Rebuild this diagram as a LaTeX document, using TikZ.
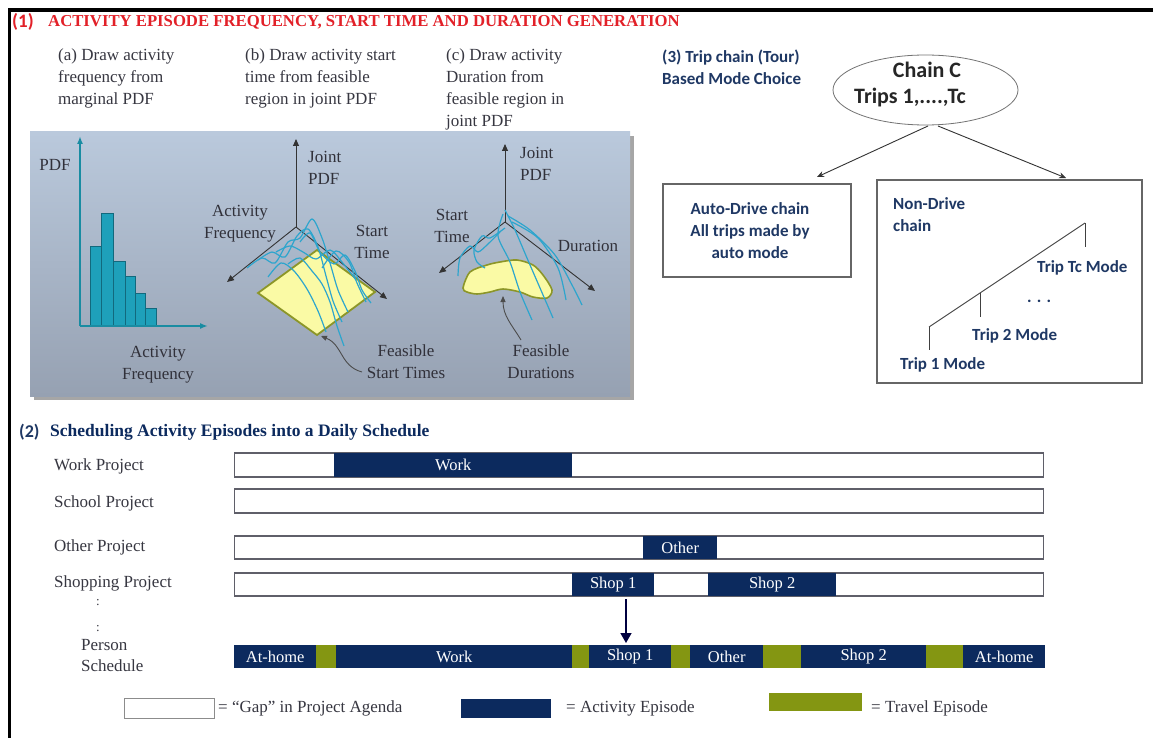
\documentclass[tikz,border=0pt]{standalone}
\usepackage{fontspec}
\setmainfont{Liberation Serif}
\newfontfamily\calfont{Carlito}
\usetikzlibrary{arrows.meta,shapes.geometric}

\definecolor{hdred}{RGB}{226,32,40}
\definecolor{navy}{RGB}{12,42,94}
\definecolor{olive}{RGB}{132,150,18}
\definecolor{tripnavy}{RGB}{31,56,100}
\definecolor{txtgray}{RGB}{55,55,65}
\definecolor{paneltop}{RGB}{186,201,220}
\definecolor{panelbot}{RGB}{150,161,178}
\definecolor{tealfill}{RGB}{30,160,186}
\definecolor{tealedge}{RGB}{18,105,125}
\definecolor{tealaxis}{RGB}{25,140,162}
\definecolor{wave}{RGB}{45,165,205}
\definecolor{planefill}{RGB}{250,250,165}
\definecolor{planeedge}{RGB}{140,150,40}
\definecolor{bargray}{RGB}{95,95,105}

\tikzset{
  hd/.style={inner sep=0, text=hdred},
  captxt/.style={inner sep=0, align=left, text=txtgray, font=\fontsize{17}{22}\selectfont},
  plab/.style={inner sep=0, align=center, text=txtgray!90!black, font=\fontsize{17}{22}\selectfont},
  histbar/.style={fill=tealfill, draw=tealedge, line width=0.8},
  histaxis/.style={draw=tealaxis, line width=1.6, -{Latex[length=8pt,width=6pt]}},
  axis3d/.style={draw=black!80, line width=0.9, -{Triangle[length=7pt,width=6pt]}},
  wavy/.style={draw=wave, line width=1.2},
  pointer/.style={draw=black!70, line width=0.9, -{Triangle[length=6pt,width=5pt]}},
  cb/.style={inner sep=0, align=left, text=tripnavy, font=\calfont\bfseries\fontsize{17}{22}\selectfont},
  treebox/.style={draw=black!60, line width=1.3, fill=white},
  treeline/.style={draw=black!75, line width=0.9},
  chainarrow/.style={draw=black!80, line width=0.9, -{Stealth[length=7pt,width=6pt]}},
  slab/.style={inner sep=0, anchor=west, align=left, text=txtgray, font=\fontsize{17}{21}\selectfont},
  gapbar/.style={draw=bargray, line width=1.4, fill=white, inner sep=0, anchor=west},
  actblk/.style={fill=navy, text=white, inner sep=0, anchor=west, font=\fontsize{16.5}{16.5}\selectfont},
  trvblk/.style={fill=olive, inner sep=0, anchor=west},
}

\begin{document}
\begin{tikzpicture}[x=1pt,y=-1pt]
\useasboundingbox (0,0) rectangle (1153,738);
\fill[white] (0,0) rectangle (1153,738);
\draw[line width=3.5, black] (9.5,738) -- (9.5,10) -- (1153,10);

% ---------- section (1) ----------
\node[hd, anchor=west, font=\calfont\bfseries\fontsize{19}{19}\selectfont] (sec1num) at (12,22) {(1)};
\node[hd, anchor=west, font=\bfseries\fontsize{16.7}{16.7}\selectfont] (sec1) at (48,22)
  {ACTIVITY EPISODE FREQUENCY, START TIME AND DURATION GENERATION};

\node[captxt, anchor=west] (capa) at (58,78) {(a) Draw activity\\frequency from\\marginal PDF};
\node[captxt, anchor=west] (capb) at (245,78) {(b) Draw activity start\\time from feasible\\region in joint PDF};
\node[captxt, anchor=west] (capc) at (446,89) {(c) Draw activity\\Duration from\\feasible region in\\joint PDF};

% panel with drop shadow
\fill[black!35] (34,136) rectangle (634,400);
\shade[top color=paneltop, bottom color=panelbot] (30,132) rectangle (630,396);

% (a) histogram
\filldraw[histbar] (90,325) rectangle (101.7,246.7);
\filldraw[histbar] (101.7,325) rectangle (113.3,213.3);
\filldraw[histbar] (113.3,325) rectangle (125,261.7);
\filldraw[histbar] (125,325) rectangle (135,276.7);
\filldraw[histbar] (135,325) rectangle (145,293.3);
\filldraw[histbar] (145,325) rectangle (156,308.3);
\coordinate (hO) at (80,326);
\coordinate (hY) at (80,136);
\coordinate (hX) at (208,326);
\draw[histaxis] (hO) -- (hY);
\draw[histaxis] (hO) -- (hX);
\node[plab] (pdfA) at (55,165) {PDF};
\node[plab] (freqA) at (158,365) {Activity\\Frequency};

% (b) joint pdf of frequency and start time
\filldraw[fill=planefill, draw=planeedge, line width=1.8]
  (258,293) -- (317,250) -- (375,292) -- (317,335) -- cycle;
\coordinate (bO) at (296,227);
\coordinate (bUp) at (296,139);
\coordinate (bL) at (227,282);
\coordinate (bR) at (387,299);
\draw[axis3d] (bO) -- (bUp);
\draw[axis3d] (bO) -- (bL);
\draw[axis3d] (bO) -- (bR);
\draw[wavy] plot[smooth] coordinates {(247,268) (262,258) (275,263) (288,242) (300,238) (312,219) (322,238) (330,263) (338,290) (348,312)};
\draw[wavy] plot[smooth] coordinates {(258,260) (272,252) (285,257) (297,236) (308,229) (318,247) (326,276) (333,301) (342,322)};
\draw[wavy] plot[smooth] coordinates {(300,242) (310,233) (320,252) (334,264) (345,255) (355,271) (362,290) (371,303)};
\draw[wavy] plot[smooth] coordinates {(288,264) (300,258) (312,271) (322,284) (330,302) (337,326) (344,346)};
\draw[wavy] plot[smooth] coordinates {(322,268) (336,251) (349,262) (357,283) (366,302)};
\draw[wavy] plot[smooth] coordinates {(268,277) (281,263) (294,271) (307,289) (318,311) (326,332)};
\draw[wavy] plot[smooth] coordinates {(276,252) (290,246) (303,252) (316,259) (330,250) (342,262) (356,280)};
\node[plab, align=left, anchor=west] (jpdfB) at (308,168) {Joint\\PDF};
\node[plab] (freqB) at (240,224) {Activity\\Frequency};
\node[plab] (startB) at (372,242) {Start\\Time};
\node[plab] (feasB) at (406,362) {Feasible\\Start Times};
\coordinate (feasBtip) at (321,336);
\draw[pointer] (362,372) .. controls (340,366) and (343,345) .. (feasBtip);

% (c) joint pdf of start time and duration
\filldraw[fill=planefill, draw=planeedge, line width=1.6]
  plot[smooth cycle] coordinates {(463,288) (470,272) (487,265) (500,262) (517,260) (533,265) (543,275) (552,290) (547,298) (533,297) (520,292) (503,289) (490,292) (477,294) (467,292)};
\coordinate (cO) at (505,222);
\coordinate (cUp) at (505,144);
\coordinate (cL) at (439,273);
\coordinate (cR) at (595,291);
\draw[axis3d] (cO) -- (cUp);
\draw[axis3d] (cO) -- (cL);
\draw[axis3d] (cO) -- (cR);
\draw[wavy] plot[smooth] coordinates {(505,210) (515,230) (527,258) (540,288) (553,318)};
\draw[wavy] plot[smooth] coordinates {(503,214) (498,236) (510,262) (520,292) (532,320)};
\draw[wavy] plot[smooth] coordinates {(508,216) (530,230) (555,255) (572,285) (582,305)};
\draw[wavy] plot[smooth] coordinates {(500,232) (488,244) (478,252) (470,246) (460,258) (458,276)};
\draw[wavy] plot[smooth] coordinates {(505,228) (490,238) (482,236) (474,250) (477,262) (485,268)};
\draw[wavy] plot[smooth] coordinates {(512,222) (538,238) (558,268) (566,300)};
\node[plab, align=left, anchor=west] (jpdfC) at (520,164) {Joint\\PDF};
\node[plab] (startC) at (452,226) {Start\\Time};
\node[plab] (durC) at (588,246) {Duration};
\node[plab] (feasC) at (541,362) {Feasible\\Durations};
\coordinate (feasCtip) at (503,296);
\draw[pointer] (521,340) .. controls (512,325) and (503,316) .. (feasCtip);

% ---------- section (3) ----------
\node[cb, anchor=west] (sec3) at (662,67) {(3) Trip chain (Tour)\\Based Mode Choice};
\node[ellipse, draw=black!55, line width=0.8, minimum width=185, minimum height=70, inner sep=0] (chain) at (925.5,90) {};
\node[inner sep=0, font=\calfont\bfseries\fontsize{22}{22}\selectfont, text=black!85] (chainA) at (927,70) {Chain C};
\node[inner sep=0, font=\calfont\bfseries\fontsize{22}{22}\selectfont, text=black!85] (chainB) at (910,98) {Trips 1,....,Tc};

\node[treebox, minimum width=188, minimum height=93, inner sep=0] (auto) at (757,230.5) {};
\node[cb, align=center] (autotxt) at (750,231) {Auto-Drive chain\\All trips made by\\auto mode};
\node[treebox, minimum width=265, minimum height=203, inner sep=0] (nondrive) at (1009.5,281.5) {};
\node[cb, anchor=west] (ndtxt) at (893,215) {Non-Drive\\chain};

\coordinate (autoIn) at (817,177);
\coordinate (ndIn) at (1066,178);
\draw[chainarrow] (928,126) -- (autoIn);
\draw[chainarrow] (938,126) -- (ndIn);

\coordinate (t1) at (929,327);
\coordinate (t2) at (980,293);
\coordinate (tc) at (1085,223);
\draw[treeline] (t1) -- (tc);
\draw[treeline] (t1) -- ++(0,23);
\draw[treeline] (t2) -- ++(0,24);
\draw[treeline] (tc) -- ++(0,24);
\node[cb, anchor=west] (tcmode) at (1037,268) {Trip Tc Mode};
\node[cb, anchor=west] (dots) at (1027,301) {. . .};
\node[cb, anchor=west] (t2mode) at (972,336) {Trip 2 Mode};
\node[cb, anchor=west] (t1mode) at (900,365) {Trip 1 Mode};

% ---------- section (2) ----------
\node[inner sep=0, anchor=west, text=tripnavy, font=\calfont\bfseries\fontsize{18}{18}\selectfont] (sec2num) at (19,432) {(2)};
\node[inner sep=0, anchor=west, text=navy, font=\bfseries\fontsize{17.5}{17.5}\selectfont] (sec2) at (50,432)
  {Scheduling Activity Episodes into a Daily Schedule};

\node[slab] (lwork) at (54,466) {Work Project};
\node[slab] (lschool) at (54,503) {School Project};
\node[slab] (lother) at (54,547) {Other Project};
\node[slab] (lshop) at (54,583) {Shopping Project};
\node[slab, font=\fontsize{13}{13}\selectfont] (dot1) at (96,603) {:};
\node[slab, font=\fontsize{13}{13}\selectfont] (dot2) at (96,629) {:};
\node[slab] (lperson) at (81,656) {Person\\Schedule};

% project agendas
\node[gapbar, minimum width=809, minimum height=24] (workbar) at (234,465) {};
\node[actblk, minimum width=238, minimum height=24] (workblk) at (334,465) {Work};
\node[gapbar, minimum width=809, minimum height=24] (schoolbar) at (234,501) {};
\node[gapbar, minimum width=809, minimum height=23] (otherbar) at (234,547.5) {};
\node[actblk, minimum width=74, minimum height=23] (otherblk) at (643,547.5) {Other};
\node[gapbar, minimum width=809, minimum height=23] (shopbar) at (234,584.5) {};
\node[actblk, minimum width=82, minimum height=23] (shop1blk) at (572,584.5) {Shop 1};
\node[actblk, minimum width=128, minimum height=23] (shop2blk) at (708,584.5) {Shop 2};

% person schedule
\node[actblk, minimum width=82, minimum height=23] (pHome1) at (234,656.5) {At-home};
\node[trvblk, minimum width=20, minimum height=23] (pT1) at (316,656.5) {};
\node[actblk, minimum width=236, minimum height=23] (pWork) at (336,656.5) {Work};
\node[trvblk, minimum width=17, minimum height=23] (pT2) at (572,656.5) {};
\node[actblk, minimum width=82, minimum height=23] (pShop1) at (589,656.5) {Shop 1};
\node[trvblk, minimum width=19, minimum height=23] (pT3) at (671,656.5) {};
\node[actblk, minimum width=73, minimum height=23] (pOther) at (690,656.5) {Other};
\node[trvblk, minimum width=38, minimum height=23] (pT4) at (763,656.5) {};
\node[actblk, minimum width=125, minimum height=23] (pShop2) at (801,656.5) {Shop 2};
\node[trvblk, minimum width=37, minimum height=23] (pT5) at (926,656.5) {};
\node[actblk, minimum width=82, minimum height=23] (pHome2) at (963,656.5) {At-home};

\coordinate (shopArrowStart) at (626,599);
\coordinate (shopArrowEnd) at (626,643);
\draw[draw=black!75!blue, line width=1.4, -{Triangle[length=10pt,width=11pt]}] (shopArrowStart) -- (shopArrowEnd);

% legend
\node[gapbar, minimum width=90, minimum height=20, draw=black!45, line width=1] (lgGap) at (124,708) {};
\node[slab] (lgGapT) at (218,708) {= \textquotedblleft Gap\textquotedblright\ in Project Agenda};
\node[actblk, minimum width=90, minimum height=19] (lgAct) at (461,708.5) {};
\node[slab] (lgActT) at (566,708) {= Activity Episode};
\node[trvblk, minimum width=93, minimum height=18] (lgTrv) at (769,702) {};
\node[slab] (lgTrvT) at (871,708) {= Travel Episode};
\end{tikzpicture}
\end{document}
